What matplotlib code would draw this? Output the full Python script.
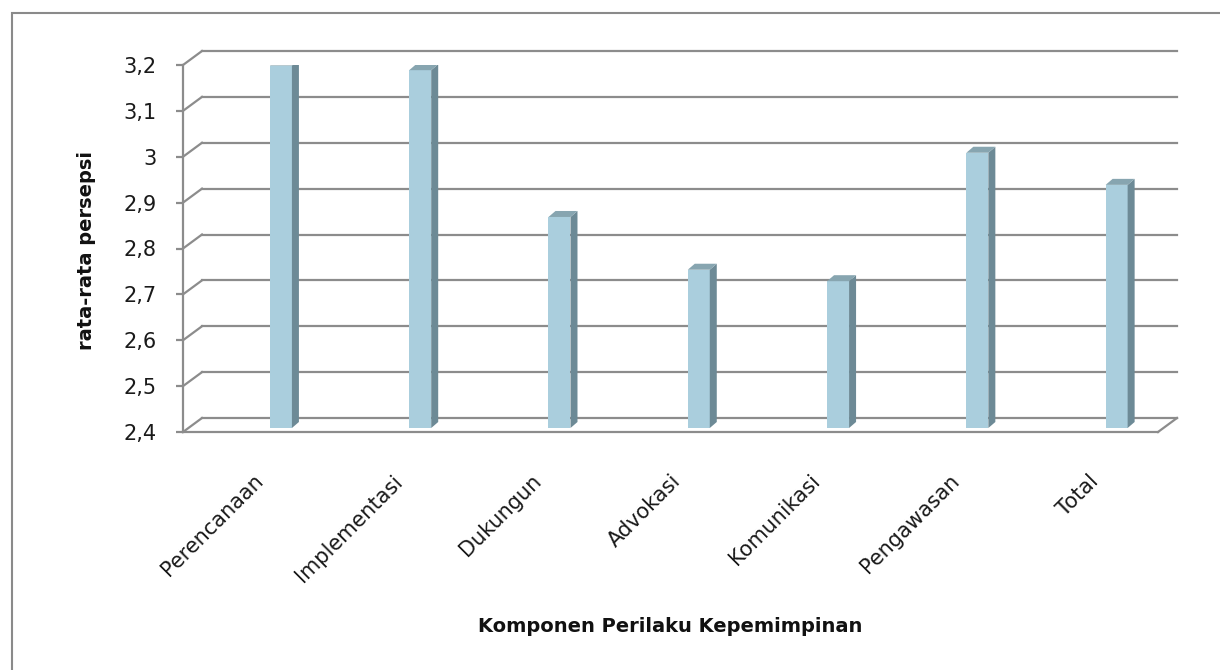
import matplotlib
matplotlib.use("Agg")
import matplotlib.pyplot as plt
from matplotlib.patches import Polygon, Rectangle
from matplotlib.lines import Line2D

# ---- data ----
categories = ["Perencanaan", "Implementasi", "Dukungun", "Advokasi",
              "Komunikasi", "Pengawasan", "Total"]
values = [3.19, 3.18, 2.86, 2.745, 2.72, 3.00, 2.93]
yticks = [2.4, 2.5, 2.6, 2.7, 2.8, 2.9, 3.0, 3.1, 3.2]
ytick_labels = ["2,4", "2,5", "2,6", "2,7", "2,8", "2,9", "3", "3,1", "3,2"]
ymin, ymax = 2.4, 3.2

plt.rcParams['font.family'] = ['DejaVu Sans']

W, H = 1220, 670
fig = plt.figure(figsize=(W / 100, H / 100), dpi=100)
fig.patch.set_facecolor('white')

# outer chart border (right/bottom edges fall outside the image)
fig.patches.append(Rectangle((12 / W, -0.1), 1.2, (H - 13) / H + 0.1,
                             transform=fig.transFigure, fill=False,
                             edgecolor='#8a8a8a', linewidth=1.5))

ax_l, ax_r, ax_t, ax_b = 183, 1158, 65, 432
ax = fig.add_axes([ax_l / W, (H - ax_b) / H, (ax_r - ax_l) / W, (ax_b - ax_t) / H])
n = len(categories)
ax.set_xlim(0, n)
ax.set_ylim(ymin, ymax)
ax.set_facecolor('none')

px_x = n / (ax_r - ax_l)              # data units per pixel (x)
px_y = (ymax - ymin) / (ax_b - ax_t)  # data units per pixel (y)

grid_c = '#8c8c8c'
glw = 1.6
# depth of the walls
wdx, wdy = 19 * px_x, 14 * px_y

for v in yticks:
    # back wall gridline
    ax.add_line(Line2D([wdx, n + wdx], [v + wdy, v + wdy], color=grid_c,
                       lw=glw, clip_on=False, zorder=1))
    # side wall connector
    ax.add_line(Line2D([0, wdx], [v, v + wdy], color=grid_c, lw=glw,
                       clip_on=False, zorder=1))
# floor right edge
ax.add_line(Line2D([n, n + wdx], [ymin, ymin + wdy], color=grid_c, lw=glw,
                   clip_on=False, zorder=1))

# bars (pseudo 3-D)
bw = 22 * px_x
boff = 0.703
lift = 4 * px_y
bdx, bdy = 7 * px_x, 6 * px_y
front_c, side_c, top_c = '#aacedd', '#6d8a96', '#87a5b0'
xs = [i + boff for i in range(n)]
bars = ax.bar(xs, [v - ymin for v in values], width=bw, bottom=ymin + lift,
              color=front_c, edgecolor='none', zorder=3)
for rect, v in zip(bars, values):
    x0 = rect.get_x()
    x1 = x0 + rect.get_width()
    b = rect.get_y()
    t = b + rect.get_height()
    ax.add_patch(Polygon([(x1, b), (x1 + bdx, b + bdy), (x1 + bdx, t + bdy), (x1, t)],
                         closed=True, facecolor=side_c, edgecolor='none', zorder=3))
    ax.add_patch(Polygon([(x0, t), (x1, t), (x1 + bdx, t + bdy), (x0 + bdx, t + bdy)],
                         closed=True, facecolor=top_c, edgecolor='none', zorder=3))

# axes styling
for s in ['top', 'right']:
    ax.spines[s].set_visible(False)
ax.spines['left'].set_color(grid_c)
ax.spines['left'].set_linewidth(glw)
ax.spines['bottom'].set_color(grid_c)
ax.spines['bottom'].set_linewidth(glw)
ax.set_yticks(yticks)
ax.set_yticklabels(ytick_labels, fontsize=15, color='#1a1a1a')
ax.tick_params(axis='y', direction='out', length=5, width=glw, color=grid_c, pad=14)
ax.set_xticks([i + 0.5 for i in range(n)])
ax.set_xticklabels(categories, rotation=45, ha='right', rotation_mode='anchor',
                   fontsize=15, color='#1a1a1a')
ax.tick_params(axis='x', length=0, pad=28)

fig.text(86 / W, 1 - 250 / H, "rata-rata persepsi", rotation=90, ha='center',
         va='center', fontsize=14, fontweight='bold', color='#111111')
fig.text(670 / W, 1 - 627 / H, "Komponen Perilaku Kepemimpinan", ha='center',
         va='center', fontsize=14, fontweight='bold', color='#111111')

fig.savefig("out.png", dpi=100, facecolor='white')
